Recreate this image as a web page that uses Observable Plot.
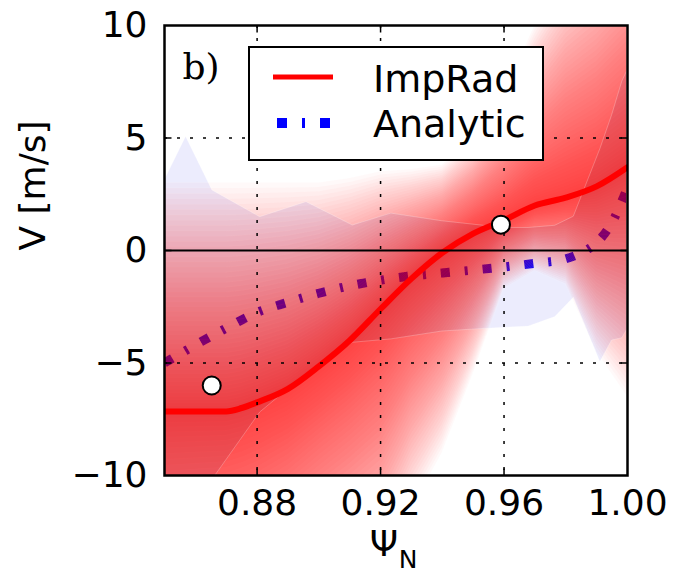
<!DOCTYPE html>
<html>
<head>
<meta charset="utf-8">
<script src="https://cdn.jsdelivr.net/npm/d3@7"></script>
<script src="https://cdn.jsdelivr.net/npm/@observablehq/plot@0.6"></script>
<style>
  html, body { margin: 0; padding: 0; background: #fff; }
  #chart { position: relative; width: 677px; height: 579px; }
</style>
</head>
<body>
<div id="chart"></div>
<script>
// ImpRad velocity profile and its uncertainty envelope (faint outer edges)
const psi        = [0.85, 0.86, 0.87, 0.875, 0.88, 0.89, 0.90, 0.91, 0.92, 0.93, 0.94, 0.95, 0.96, 0.97, 0.98, 0.99, 1.00];
const impradV    = [-7.15, -7.15, -7.15, -7.0, -6.75, -6.15, -5.15, -4.0, -2.6, -1.25, -0.1, 0.75, 1.35, 2.0, 2.35, 2.85, 3.7];
const impradLow  = [-22, -21.5, -21, -20.5, -20, -18.5, -17, -16, -15, -11.5, -9, -5.5, -1.7, -0.9, -1.5, -4.5, -6.5];
const impradHigh = [3.0, 3.0, 3.0, 3.0, 3.0, 3.0, 3.0, 3.2, 3.5, 3.6, 3.8, 5.0, 7.0, 10.0, 12.5, 14, 16];

// Analytic velocity profile
const analyticPsi = [0.85, 0.86, 0.87, 0.88, 0.89, 0.90, 0.91, 0.92, 0.93, 0.94, 0.95, 0.96, 0.97, 0.98, 0.985, 0.99, 0.995, 1.00];
const analyticV   = [-5.0, -4.2, -3.45, -2.75, -2.3, -1.9, -1.57, -1.32, -1.13, -1.0, -0.87, -0.73, -0.57, -0.37, -0.1, 0.35, 1.25, 2.8];

// Analytic uncertainty band
const bandPsi  = [0.85, 0.857, 0.8655, 0.881, 0.896, 0.911, 0.9235, 0.94, 0.96, 0.968, 0.9766, 0.9826, 0.9912, 0.995, 0.9983, 1.00];
const bandHigh = [3.1, 5.05, 2.67, 1.48, 2.15, 1.11, 1.64, 1.3, 1.0, 1.0, 1.1, 1.5, 4.5, 6.0, 7.5, 8.0];
const bandLow  = [-13, -11.5, -10.2, -7.2, -5.5, -4.1, -3.95, -3.6, -3.43, -3.38, -2.96, -2.1, -4.96, -4.0, -3.9, -3.5];

// Measured points
const markerPsi = [0.8653, 0.959];
const markerV   = [-6.0, 1.15];

// Axis ticks
const xTicks = [0.88, 0.92, 0.96, 1.00];
const yTicks = [-10, -5, 0, 5, 10];
const xGrid  = [0.88, 0.92, 0.96];
const yGrid  = [-5, 5];

// Tables for the marks
const imprad   = psi.map((p, i) => ({psi: p, v: impradV[i]}));
const analytic = analyticPsi.map((p, i) => ({psi: p, v: analyticV[i]}));
const band     = bandPsi.map((p, i) => ({psi: p, lo: bandLow[i], hi: bandHigh[i]}));
const markers  = markerPsi.map((p, i) => ({psi: p, v: markerV[i]}));

// Nested layers of the ImpRad envelope, packed a little tighter near the
// profile so the stacked translucent fills fade out towards the edges
const layerCount = 50;
const layers = [];
for (let k = 1; k <= layerCount; k++) {
  const f = Math.pow(k / layerCount, 1.2);
  psi.forEach((p, i) => layers.push({
    k, psi: p,
    lo: impradV[i] + (impradLow[i] - impradV[i]) * f,
    hi: impradV[i] + (impradHigh[i] - impradV[i]) * f
  }));
}

// Short inward tick drawn as a custom dot symbol
const tickSymbol = (dx, dy) => ({
  draw(ctx, size) {
    const l = Math.sqrt(size / Math.PI);
    ctx.moveTo(0, 0);
    ctx.lineTo(dx * l, dy * l);
  }
});
const tickStyle = {r: 7, stroke: "black", strokeWidth: 1.5, fill: "none"};

const chart = Plot.plot({
  width: 677,
  height: 579,
  marginLeft: 164,
  marginRight: 50,
  marginTop: 25,
  marginBottom: 104,
  style: {fontFamily: "DejaVu Sans", fontSize: "36px", background: "white", color: "black", overflow: "visible"},
  x: {domain: [0.85, 1.0], ticks: xTicks, tickFormat: d3.format(".2f"), tickSize: 0, tickPadding: 14, label: null},
  y: {domain: [-10, 10], ticks: yTicks, tickFormat: d3.format("d"), tickSize: 0, tickPadding: 17, label: null},
  marks: [
    Plot.areaY(band, {x: "psi", y1: "lo", y2: "hi", fill: "#5050f0", fillOpacity: 0.11, clip: true}),
    Plot.line(analytic, {x: "psi", y: "v", stroke: "#0000ff", strokeWidth: 9, strokeDasharray: "9,15,3,15", strokeLinecap: "butt", curve: "monotone-x", clip: true}),
    Plot.areaY(layers, {x: "psi", y1: "lo", y2: "hi", z: "k", fill: "#ff0000", fillOpacity: 0.025, stroke: "white", strokeOpacity: 0.2, strokeWidth: 0.6, clip: true}),
    Plot.areaY(band, {x: "psi", y1: "lo", y2: "hi", fill: "none", stroke: "white", strokeOpacity: 0.3, strokeWidth: 0.8, clip: true}),
    Plot.line(imprad, {x: "psi", y: "v", stroke: "#ff0000", strokeWidth: 6, curve: "monotone-x", clip: true}),
    Plot.ruleX(xGrid, {stroke: "black", strokeWidth: 1.5, strokeDasharray: "3,10"}),
    Plot.ruleY(yGrid, {stroke: "black", strokeWidth: 1.5, strokeDasharray: "3,10"}),
    Plot.ruleY([0], {stroke: "black", strokeWidth: 2}),
    Plot.dot(markers, {x: "psi", y: "v", r: 9, fill: "white", stroke: "black", strokeWidth: 2}),
    Plot.dot(xGrid, {x: d => d, frameAnchor: "bottom", symbol: tickSymbol(0, -1), ...tickStyle}),
    Plot.dot(xGrid, {x: d => d, frameAnchor: "top", symbol: tickSymbol(0, 1), ...tickStyle}),
    Plot.dot([-5, 0, 5], {y: d => d, frameAnchor: "left", symbol: tickSymbol(1, 0), ...tickStyle}),
    Plot.dot([-5, 0, 5], {y: d => d, frameAnchor: "right", symbol: tickSymbol(-1, 0), ...tickStyle}),
    Plot.frame({stroke: "black", strokeWidth: 2.5}),
    Plot.text(["b)"], {frameAnchor: "top-left", dx: 18, dy: 28, textAnchor: "start", fontFamily: "DejaVu Serif", fontSize: 36}),
    Plot.text(["V [m/s]"], {frameAnchor: "left", dx: -131, rotate: -90, fontSize: 36}),
    Plot.text(["Ψ"], {frameAnchor: "bottom", dx: -12, dy: 80, fontSize: 36}),
    Plot.text(["N"], {frameAnchor: "bottom", dx: 12, dy: 92, fontSize: 25})
  ]
});
document.getElementById("chart").appendChild(chart);

// Legend box drawn over the upper part of the panel
const legend = d3.select("#chart").append("svg")
  .attr("width", 296).attr("height", 116)
  .style("position", "absolute").style("left", "248px").style("top", "46px")
  .style("font-family", "DejaVu Sans");
legend.append("rect")
  .attr("x", 1).attr("y", 1).attr("width", 294).attr("height", 113)
  .attr("fill", "white").attr("stroke", "black").attr("stroke-width", 2);
legend.append("line")
  .attr("x1", 25).attr("x2", 85).attr("y1", 31).attr("y2", 31)
  .attr("stroke", "#ff0000").attr("stroke-width", 5);
legend.append("text").attr("x", 125).attr("y", 46).attr("font-size", 38).text("ImpRad");
legend.append("line")
  .attr("x1", 29).attr("x2", 85).attr("y1", 77).attr("y2", 77)
  .attr("stroke", "#0000ff").attr("stroke-width", 10).attr("stroke-dasharray", "10,15,3,15");
legend.append("text").attr("x", 125).attr("y", 91).attr("font-size", 38).text("Analytic");
</script>
</body>
</html>
